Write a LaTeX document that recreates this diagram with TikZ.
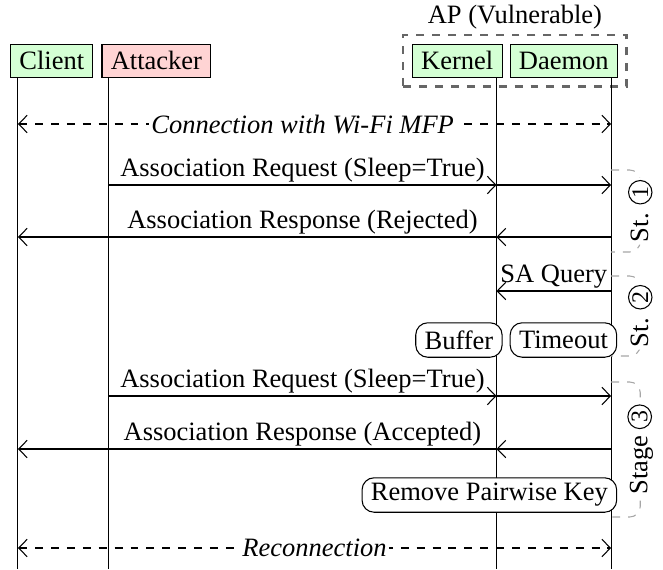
\documentclass[tikz,border=0pt]{standalone}
\usepackage{fontspec}
\setmainfont{Liberation Serif}
\usepackage{xcolor}
\definecolor{peerGreen}{HTML}{D4FFD4}
\definecolor{attackRed}{HTML}{FFD4D4}
\definecolor{stageGray}{HTML}{A6A6A6}
\definecolor{apGray}{HTML}{666666}
\usepackage{tikz}
\usetikzlibrary{arrows.meta,positioning,fit}
\tikzset{
    entity/.style={
        draw,
        fill=peerGreen,
        rectangle,
        minimum height=12.6pt,
        inner ysep=1pt
    },
    adversary/.style={
        entity,
        fill=attackRed
    },
    action/.style={
        draw,
        fill=white,
        rectangle,
        rounded corners=1.6mm,
        minimum height=13pt,
        inner ysep=1pt
    },
    apbox/.style={
        draw=apGray,
        dashed,
        thick,
        inner sep=3.2pt
    },
    msg/.style={
        -{Straight Barb[length=3.2pt,width=6.6pt]}
    },
    link/.style={
        {Straight Barb[length=3.2pt,width=6.6pt]}-{Straight Barb[length=3.2pt,width=6.6pt]},
        dashed
    },
    say/.style={
        above,
        inner sep=0.8pt
    },
    tag/.style={
        fill=white,
        inner sep=1pt,
        font=\itshape
    },
    stage/.style={
        draw=stageGray,
        dashed,
        rounded corners=4pt
    },
    stagelbl/.style={
        fill=white,
        rotate=90,
        inner sep=1pt
    }
}
\newcommand{\stnum}[1]{\tikz[baseline=(sn.base)] \node[circle, draw=black, fill=white, inner sep=0.5pt, font=\small] (sn) {#1};}

\begin{document}
\begin{tikzpicture}[x=0.3774pt, y=-0.3774pt]
    \useasboundingbox (0,0) rectangle (663,569);

    % Participants
    \node[entity, anchor=south west] (client) at (10,78) {Client};
    \node[adversary, right=3pt of client] (attacker) {Attacker};
    \node[entity, anchor=south east] (daemon) at (618,78) {Daemon};
    \node[entity, left=2.6pt of daemon] (kernel) {Kernel};
    \node[apbox, fit=(kernel)(daemon)] (ap) {};
    \node[above, inner sep=1.5pt] (aplabel) at (ap.north) {AP (Vulnerable)};

    % Lifelines
    \coordinate (clientL) at ([xshift=3pt]client.south west);
    \coordinate (attackerL) at ([xshift=2.6pt]attacker.south west);
    \coordinate (kernelL) at ([xshift=-2.3pt]kernel.south east);
    \coordinate (daemonL) at ([xshift=-2.6pt]daemon.south east);
    \coordinate (bottom) at (0,569);
    \foreach \p in {clientL,attackerL,kernelL,daemonL}
        \draw (\p) -- (\p |- bottom);

    % Rows
    \foreach \n/\y in {0/124,1/185,2/237,3/291,4/340,5/396,6/449,7/495,8/548}
        \coordinate (r\n) at (0,\y);

    % Messages
    \draw[link] (clientL |- r0) -- node[tag, pos=0.48] {Connection with Wi-Fi MFP} (daemonL |- r0);

    \draw[msg] (attackerL |- r1) -- node[say] {Association Request (Sleep=True)} (kernelL |- r1);
    \draw[msg] (kernelL |- r1) -- (daemonL |- r1);

    \draw[msg] (daemonL |- r2) -- (kernelL |- r2);
    \draw[msg] (kernelL |- r2) -- (clientL |- r2);
    \path (attackerL |- r2) -- node[say] {Association Response (Rejected)} (kernelL |- r2);

    \draw[msg] (daemonL |- r3) -- node[say] {SA Query} (kernelL |- r3);

    \node[action, anchor=east] (buffer) at ([xshift=2.3pt]kernelL |- r4) {Buffer};
    \node[action, anchor=east] (timeout) at ([xshift=2.3pt]daemonL |- r4) {Timeout};

    \draw[msg] (attackerL |- r5) -- node[say] {Association Request (Sleep=True)} (kernelL |- r5);
    \draw[msg] (kernelL |- r5) -- (daemonL |- r5);

    \draw[msg] (daemonL |- r6) -- (kernelL |- r6);
    \draw[msg] (kernelL |- r6) -- (clientL |- r6);
    \path (attackerL |- r6) -- node[say] {Association Response (Accepted)} (kernelL |- r6);

    \node[action, anchor=east] (rmkey) at ([xshift=2.3pt]daemonL |- r7) {Remove Pairwise Key};

    \draw[link] (clientL |- r8) -- node[tag] {Reconnection} (daemonL |- r8);

    % Stages
    \draw[stage] (daemonL |- 0,170) -- ([xshift=11pt]daemonL |- 0,170)
        -- node[stagelbl] {St. \stnum{1}} ([xshift=11pt]daemonL |- 0,252) -- (daemonL |- 0,252);
    \draw[stage] (daemonL |- 0,276) -- ([xshift=11pt]daemonL |- 0,276)
        -- node[stagelbl] {St. \stnum{2}} ([xshift=11pt]daemonL |- 0,356) -- (daemonL |- 0,356);
    \draw[stage] (daemonL |- 0,382) -- ([xshift=11pt]daemonL |- 0,382)
        -- node[stagelbl] {Stage \stnum{3}} ([xshift=11pt]daemonL |- 0,517) -- (daemonL |- 0,517);
\end{tikzpicture}
\end{document}
